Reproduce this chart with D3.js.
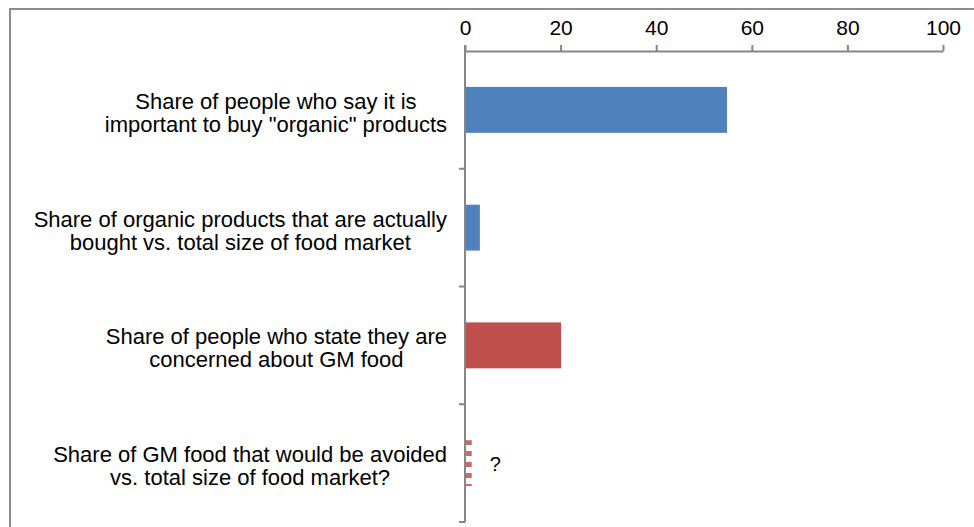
<!DOCTYPE html>
<html>
<head>
<meta charset="utf-8">
<script src="https://cdn.jsdelivr.net/npm/d3@7"></script>
<style>
    body { margin: 0; background: #fff; }
    text { font-family: "Liberation Sans", Arial, sans-serif; fill: #000; }
</style>
</head>
<body>
<div id="chart"></div>
<script>
// categories, two lines each
const categories = [
    ["Share of people who say it is", "important to buy \"organic\" products"],
    ["Share of organic products that are actually", "bought vs. total size of food market"],
    ["Share of people who state they are", "concerned about GM food"],
    ["Share of GM food that would be avoided", "vs. total size of food market?"]
];
const values = [54.6, 2.9, 19.9, 1.2];
const barKinds = ["blue", "blue", "red", "unknown"];
const xTicks = [0, 20, 40, 60, 80, 100];

const width = 974, height = 527;
const margin = {top: 51, left: 465, right: 31, bottom: 5};

const svg = d3.select("#chart").append("svg")
    .attr("width", width)
    .attr("height", height);

// striped fill for the unknown bar
const defs = svg.append("defs");
const pat = defs.append("pattern")
    .attr("id", "stripes")
    .attr("patternUnits", "userSpaceOnUse")
    .attr("width", 10)
    .attr("height", 11);
pat.append("rect")
    .attr("width", 10)
    .attr("height", 5)
    .attr("fill", "#C0504D")
    .attr("opacity", 0.85);

// outer frame
svg.append("path")
    .attr("d", "M10," + height + "V9H" + width)
    .attr("fill", "none")
    .attr("stroke", "#8c8c8c")
    .attr("stroke-width", 2);

const ids = categories.map((c, i) => "c" + i);

const x = d3.scaleLinear().domain([0, 100]).range([margin.left, width - margin.right]);
const y = d3.scaleBand().domain(ids)
    .range([margin.top, height - margin.bottom])
    .paddingInner(0.61)
    .paddingOuter(0.305);

const colors = {blue: "#4F81BD", red: "#C0504D", unknown: "url(#stripes)"};

// bars
svg.selectAll("rect.bar")
    .data(values)
    .join("rect")
    .attr("class", "bar")
    .attr("x", x(0) + 1)
    .attr("y", (d, i) => y(ids[i]))
    .attr("width", d => x(d) - x(0))
    .attr("height", y.bandwidth())
    .attr("fill", (d, i) => colors[barKinds[i]]);

// question mark next to unknown bar
svg.append("text")
    .attr("x", x(values[3]) + 19)
    .attr("y", y(ids[3]) + y.bandwidth() / 2 + 8)
    .style("font-size", "20px")
    .text("?");

// top axis
const xAxis = svg.append("g")
    .attr("transform", "translate(0," + margin.top + ")")
    .call(d3.axisTop(x).tickValues(xTicks).tickSize(6).tickPadding(10).tickSizeOuter(0));
xAxis.select(".domain").attr("stroke", "#868686").attr("stroke-width", 2);
xAxis.selectAll(".tick line").attr("stroke", "#868686").attr("stroke-width", 2);
xAxis.selectAll(".tick text").style("font-size", "21px").attr("fill", "#000");

// vertical category axis
const step = y.step();
const yAxisG = svg.append("g");
yAxisG.append("line")
    .attr("x1", x(0)).attr("x2", x(0))
    .attr("y1", margin.top - 6).attr("y2", height - margin.bottom)
    .attr("stroke", "#868686").attr("stroke-width", 2);
yAxisG.selectAll("line.cat")
    .data(ids)
    .join("line")
    .attr("class", "cat")
    .attr("x1", x(0) - 6).attr("x2", x(0))
    .attr("y1", d => y(d) + y.bandwidth() + (step - y.bandwidth()) / 2)
    .attr("y2", d => y(d) + y.bandwidth() + (step - y.bandwidth()) / 2)
    .attr("stroke", "#868686").attr("stroke-width", 2);

// category labels, lines centered, block right aligned
const labelRight = x(0) - 18;
categories.forEach((lines, i) => {
    const cy = y(ids[i]) + y.bandwidth() / 2;
    const g = svg.append("g");
    const texts = lines.map((ln, j) => g.append("text")
        .attr("y", cy - 1 + j * 23)
        .style("font-size", "22px")
        .attr("text-anchor", "middle")
        .text(ln));
    const maxW = d3.max(texts, t => t.node().getComputedTextLength());
    texts.forEach(t => t.attr("x", labelRight - maxW / 2));
});
</script>
</body>
</html>
